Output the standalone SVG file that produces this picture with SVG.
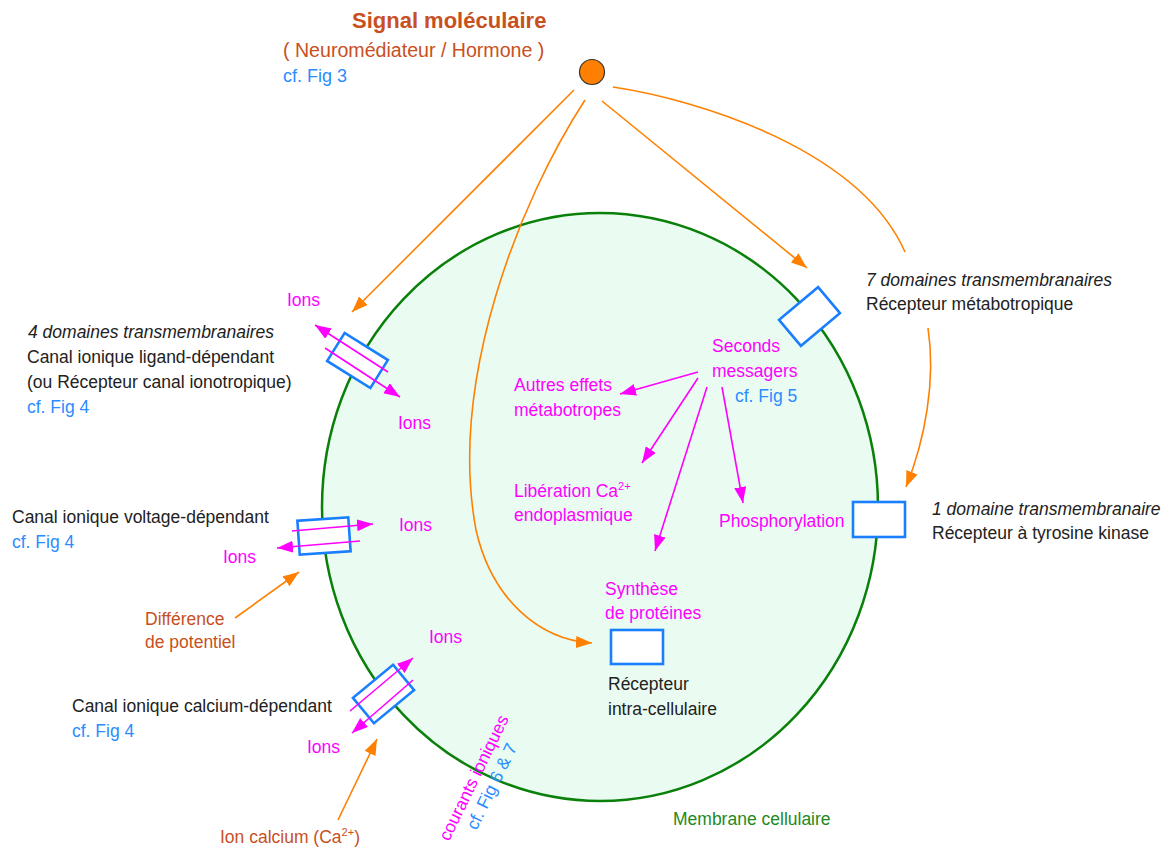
<svg xmlns="http://www.w3.org/2000/svg" width="1163" height="852" viewBox="0 0 1163 852">
<style>
text{font-family:"Liberation Sans",Arial,sans-serif;font-size:17.5px;fill:#222}
.t{fill:#c8501e}
.b{fill:#2b8cff}
.p{fill:#ff00ff}
.g{fill:#1e8a1e}
.i{font-style:italic}
.o{fill:none;stroke:#ff8000;stroke-width:1.6}
.pk{fill:none;stroke:#ff00ff;stroke-width:1.6}
.box{fill:#fff;stroke:#1a7fff;stroke-width:2.6}
.sup{font-size:11px}
</style>
<defs>
<marker id="ao" markerUnits="userSpaceOnUse" markerWidth="18" markerHeight="14" refX="16" refY="6" orient="auto"><path d="M0,0 L16,6 L0,12 Z" fill="#ff8000"/></marker>
<marker id="ap" markerUnits="userSpaceOnUse" markerWidth="18" markerHeight="14" refX="16" refY="6" orient="auto"><path d="M0,0 L16,6 L0,12 Z" fill="#ff00ff"/></marker>
</defs>

<g id="cell">
<ellipse cx="600" cy="507" rx="278" ry="294" fill="#eafcf1" stroke="#0a800a" stroke-width="2.5"/>
<text class="g" x="673" y="825">Membrane cellulaire</text>
</g>

<g id="signal">
<circle cx="592" cy="72" r="12.5" fill="#ff8000" stroke="#333" stroke-width="1.2"/>
<text x="352" y="28" class="t" style="font-weight:bold;font-size:22px">Signal moléculaire</text>
<text x="283" y="57" class="t" style="font-size:19.6px">( Neuromédiateur / Hormone )</text>
<text x="283" y="82" class="b" style="font-size:18px">cf. Fig 3</text>
</g>

<g id="connectors">
<line class="o" x1="574" y1="90" x2="352" y2="312" marker-end="url(#ao)"/>
<path class="o" d="M585,100 C520,200 448,380 476,530 C492,600 540,640 592,643" marker-end="url(#ao)"/>
<line class="o" x1="602" y1="101" x2="807" y2="268" marker-end="url(#ao)"/>
<path class="o" d="M613,87 C700,100 860,150 905,252"/>
<path class="o" d="M928,328 C936,380 925,440 906,487" marker-end="url(#ao)"/>
<line class="o" x1="235" y1="618" x2="299" y2="572" marker-end="url(#ao)"/>
<line class="o" x1="338" y1="820" x2="377" y2="739" marker-end="url(#ao)"/>
<line class="pk" x1="698" y1="372" x2="620" y2="394" marker-end="url(#ap)"/>
<line class="pk" x1="698" y1="378" x2="642" y2="463" marker-end="url(#ap)"/>
<line class="pk" x1="707" y1="387" x2="655" y2="551" marker-end="url(#ap)"/>
<line class="pk" x1="722" y1="387" x2="743" y2="503" marker-end="url(#ap)"/>
</g>

<g id="ligand-channel">
<rect class="box" x="-25.5" y="-16.5" width="51" height="33" transform="translate(357.5,360.5) rotate(32)"/>
<line class="pk" x1="388" y1="372" x2="315" y2="325" marker-end="url(#ap)"/>
<line class="pk" x1="325" y1="348" x2="400" y2="397" marker-end="url(#ap)"/>
<text class="p" x="287" y="306">Ions</text>
<text class="p" x="398" y="429">Ions</text>
<text class="i" x="28" y="338">4 domaines transmembranaires</text>
<text x="27" y="363">Canal ionique ligand-dépendant</text>
<text x="27" y="388">(ou Récepteur canal ionotropique)</text>
<text class="b" x="27" y="413">cf. Fig 4</text>
</g>

<g id="voltage-channel">
<rect class="box" x="-25.5" y="-17" width="51" height="34" transform="translate(324,536) rotate(-4)"/>
<line class="pk" x1="292" y1="531" x2="373" y2="524" marker-end="url(#ap)"/>
<line class="pk" x1="360" y1="541" x2="277" y2="548" marker-end="url(#ap)"/>
<text class="p" x="399" y="531">Ions</text>
<text class="p" x="223" y="563">Ions</text>
<text x="12" y="523">Canal ionique voltage-dépendant</text>
<text class="b" x="12" y="548">cf. Fig 4</text>
<text class="t" x="145" y="625">Différence</text>
<text class="t" x="145" y="648">de potentiel</text>
</g>

<g id="calcium-channel">
<rect class="box" x="-26" y="-16.5" width="52" height="33" transform="translate(383.5,694) rotate(-39.5)"/>
<line class="pk" x1="350" y1="711" x2="413" y2="658" marker-end="url(#ap)"/>
<line class="pk" x1="413" y1="680" x2="352" y2="733" marker-end="url(#ap)"/>
<text class="p" x="429" y="643">Ions</text>
<text class="p" x="307" y="753">Ions</text>
<text x="72" y="712">Canal ionique calcium-dépendant</text>
<text class="b" x="72" y="737">cf. Fig 4</text>
<text class="t" x="220" y="843">Ion calcium (Ca<tspan class="sup" dy="-7">2+</tspan><tspan dy="7">)</tspan></text>
<g transform="translate(449,842) rotate(-64)">
<text class="p" x="0" y="0">courants ioniques</text>
<text class="b" x="22" y="20">cf. Fig 6 &amp; 7</text>
</g>
</g>

<g id="metabotropic-receptor">
<rect class="box" x="-25.5" y="-17" width="51" height="34" transform="translate(809.5,316.5) rotate(-40)"/>
<text class="i" x="866" y="286">7 domaines transmembranaires</text>
<text x="866" y="310">Récepteur métabotropique</text>
</g>

<g id="second-messengers">
<text class="p" x="712" y="352">Seconds</text>
<text class="p" x="712" y="377">messagers</text>
<text class="b" x="735" y="402">cf. Fig 5</text>
<text class="p" x="514" y="391">Autres effets</text>
<text class="p" x="514" y="416">métabotropes</text>
<text class="p" x="514" y="497">Libération Ca<tspan class="sup" dy="-7">2+</tspan></text>
<text class="p" x="514" y="521">endoplasmique</text>
<text class="p" x="719" y="527">Phosphorylation</text>
</g>

<g id="tyrosine-kinase-receptor">
<rect class="box" x="853" y="502" width="52" height="35"/>
<text class="i" x="932" y="515">1 domaine transmembranaire</text>
<text x="932" y="539">Récepteur à tyrosine kinase</text>
</g>

<g id="intracellular-receptor">
<rect class="box" x="611" y="630" width="52" height="34"/>
<text class="p" x="605" y="595">Synthèse</text>
<text class="p" x="605" y="619">de protéines</text>
<text x="608" y="690">Récepteur</text>
<text x="608" y="715">intra-cellulaire</text>
</g>
</svg>
